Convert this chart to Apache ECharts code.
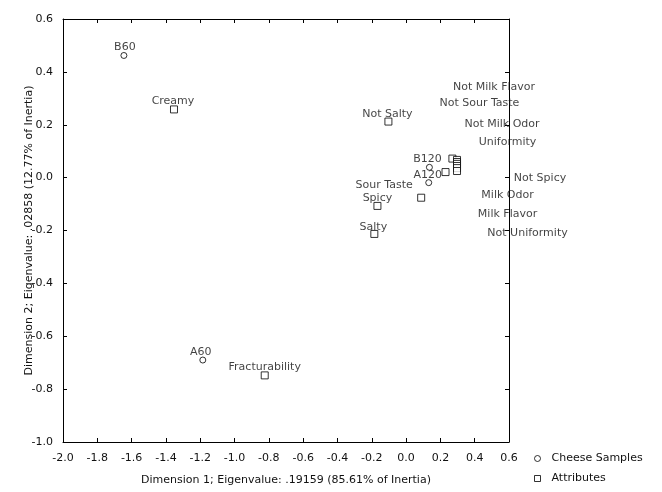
<!DOCTYPE html>
<html>
<head>
<meta charset="utf-8">
<script src="https://cdn.jsdelivr.net/npm/echarts@6/dist/echarts.min.js"></script>
<style>html,body{margin:0;padding:0;background:#fff}#c{width:662px;height:492px}</style>
</head>
<body>
<div id="c"></div>
<script>
// ---- data ----
const cheeseNames = ['B60', 'B120', 'A120', 'A60'];
const cheeseX = [-1.645, 0.136, 0.132, -1.185];
const cheeseY = [0.462, 0.039, -0.019, -0.690];

const attrNames = ['Creamy', 'Fracturability', 'Not Salty', 'Spicy', 'Salty', 'Sour Taste',
  'Not Sour Taste', 'Milk Flavor', 'Not Milk Flavor', 'Not Milk Odor', 'Uniformity',
  'Not Spicy', 'Milk Odor', 'Not Uniformity'];
const attrX = [-1.353, -0.824, -0.103, -0.167, -0.185, 0.088,
  0.270, 0.230, 0.297, 0.297, 0.297,
  0.297, 0.297, 0.297];
const attrY = [0.258, -0.748, 0.212, -0.107, -0.213, -0.076,
  0.072, 0.021, 0.067, 0.059, 0.052,
  0.044, 0.036, 0.025];

const xTicks = { min: -2.0, max: 0.6, step: 0.2 };
const yTicks = { min: -1.0, max: 0.6, step: 0.2 };

const xTitle = 'Dimension 1; Eigenvalue: .19159 (85.61% of Inertia)';
const yTitle = 'Dimension 2; Eigenvalue: .02858 (12.77% of Inertia)';
const legendNames = ['Cheese Samples', 'Attributes'];

// ---- label placement (styling, in px) ----
const defaultOffset = [0, -8];
const labelOffsets = {
  'B60': [1, -8.5], 'B120': [-2, -8], 'A120': [-1, -8], 'A60': [-2, -8],
  'Creamy': [-1, -8], 'Not Salty': [-1, -7], 'Salty': [-1, -7],
  'Sour Taste': [-37, -13],
  'Not Sour Taste': [27, -55], 'Milk Flavor': [62, 42],
  'Not Milk Flavor': [37, -73], 'Not Milk Odor': [45, -37.5],
  'Uniformity': [50.5, -22], 'Not Spicy': [83, 12],
  'Milk Odor': [50.5, 27], 'Not Uniformity': [70.5, 62]
};

const FONT = 'DejaVu Sans';
const TXT = '#111';

function pts(names, xs, ys) {
  return names.map((n, i) => ({
    name: n,
    value: [xs[i], ys[i]],
    label: { offset: labelOffsets[n] || defaultOffset }
  }));
}
function fmt(v) {
  if (Math.abs(v) < 1e-9) v = 0;
  return v.toFixed(1);
}

const axisCommon = {
  type: 'value',
  axisLine: { show: true, onZero: false, lineStyle: { color: '#000', width: 1 } },
  axisTick: { show: true, inside: true, length: 4, lineStyle: { color: '#000' } },
  splitLine: { show: false }
};

const chart = echarts.init(document.getElementById('c'), null, { renderer: 'canvas' });
chart.setOption({
  backgroundColor: '#fff',
  animation: false,
  textStyle: { fontFamily: FONT },
  grid: { left: 63, right: 153, top: 19, bottom: 50, containLabel: false },
  xAxis: [
    Object.assign({}, axisCommon, {
      position: 'bottom', min: xTicks.min, max: xTicks.max, interval: xTicks.step,
      axisLabel: { formatter: fmt, fontFamily: FONT, fontSize: 11, color: TXT, margin: 11 },
      name: xTitle, nameLocation: 'middle', nameGap: 33, nameMoveOverlap: false,
      nameTextStyle: { fontFamily: FONT, fontSize: 11, color: TXT }
    }),
    Object.assign({}, axisCommon, {
      position: 'top', min: xTicks.min, max: xTicks.max, interval: xTicks.step,
      axisLabel: { show: false }
    })
  ],
  yAxis: [
    Object.assign({}, axisCommon, {
      position: 'left', min: yTicks.min, max: yTicks.max, interval: yTicks.step,
      axisLabel: { formatter: fmt, fontFamily: FONT, fontSize: 11, color: TXT, margin: 10 },
      name: yTitle, nameLocation: 'middle', nameGap: 28, nameRotate: 90, nameMoveOverlap: false,
      nameTextStyle: { fontFamily: FONT, fontSize: 11, color: TXT }
    }),
    Object.assign({}, axisCommon, {
      position: 'right', min: yTicks.min, max: yTicks.max, interval: yTicks.step,
      axisLabel: { show: false }
    })
  ],
  legend: {
    orient: 'vertical', left: 534, top: 453, padding: 0, itemWidth: 6, itemHeight: 6, itemGap: 9,
    itemStyle: { color: '#fff', borderColor: '#000', borderWidth: 1 },
    textStyle: { fontFamily: FONT, fontSize: 11, color: TXT, padding: [0, 0, 0, 6] },
    data: [
      { name: legendNames[0], icon: 'circle' },
      { name: legendNames[1], icon: 'rect' }
    ]
  },
  series: [
    {
      name: legendNames[1], type: 'scatter', xAxisIndex: 0, yAxisIndex: 0,
      symbol: 'rect', symbolSize: 7,
      itemStyle: { color: '#fff', borderColor: '#000', borderWidth: 1 },
      label: { show: true, position: 'inside', formatter: '{b}', fontFamily: FONT, fontSize: 11, color: TXT },
      data: pts(attrNames, attrX, attrY)
    },
    {
      name: legendNames[0], type: 'scatter', xAxisIndex: 0, yAxisIndex: 0,
      symbol: 'circle', symbolSize: 6,
      itemStyle: { color: '#fff', borderColor: '#000', borderWidth: 1 },
      label: { show: true, position: 'inside', formatter: '{b}', fontFamily: FONT, fontSize: 11, color: TXT },
      data: pts(cheeseNames, cheeseX, cheeseY)
    }
  ]
});
</script>
</body>
</html>
